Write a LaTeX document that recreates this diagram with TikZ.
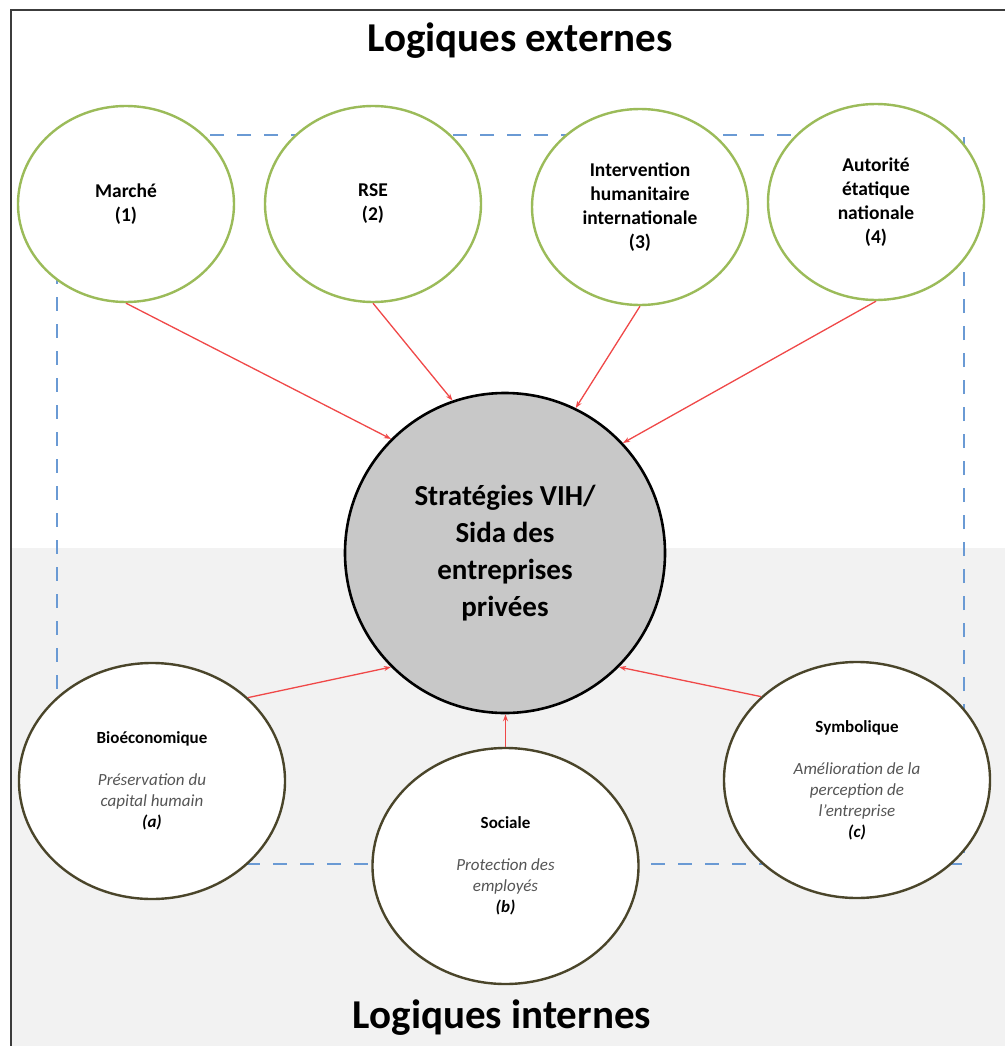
\documentclass[tikz,border=0pt]{standalone}
\usepackage{fontspec}
\setmainfont{Carlito}
\usepackage{xcolor}
\usepackage{tikz}
\usetikzlibrary{arrows.meta,shapes.geometric}
\definecolor{framegray}{HTML}{3C3C3C}
\definecolor{lowergray}{HTML}{F2F2F2}
\definecolor{leafgreen}{HTML}{9BBB59}
\definecolor{olivebrown}{HTML}{4A452A}
\definecolor{dashblue}{HTML}{6A9AD4}
\definecolor{arrowred}{HTML}{F04848}
\definecolor{corefill}{HTML}{C8C8C8}
\definecolor{notegray}{HTML}{555555}

\begin{document}
\begin{tikzpicture}[x=1pt,y=-1pt,>={Stealth[length=7pt,width=5pt]},
  extlogic/.style={ellipse,draw=leafgreen,line width=2.4pt,fill=white,minimum width=216pt,minimum height=196pt,inner sep=0pt,align=center,font=\fontsize{19.5}{24}\selectfont\bfseries},
  intlogic/.style={ellipse,draw=olivebrown,line width=2.4pt,fill=white,minimum width=266pt,minimum height=236pt,inner sep=0pt,align=center,font=\fontsize{17}{21}\selectfont},
  influence/.style={->,arrowred,line width=1.3pt},
  headline/.style={anchor=base,font=\fontsize{41}{44}\selectfont\bfseries}]
  \useasboundingbox (0,0) rectangle (1005,1046);
  % background halves and frame
  \fill[white] (0,0) rectangle (1005,1046);
  \fill[lowergray] (11,548) rectangle (1005,1046);
  \draw[framegray,line width=2pt] (11,1046) -- (11,10) -- (1005,10);
  \draw[dashblue,line width=2pt,dash pattern=on 14pt off 13pt] (57,135) rectangle (964,864);
  \node[headline] (ext) at (520,52) {Logiques externes};
  \node[headline] (int) at (502,1028) {Logiques internes};
  % centre
  \node[circle,draw=black,line width=2.6pt,fill=corefill,minimum size=320pt,inner sep=0pt,align=center,font=\fontsize{29}{37}\selectfont\bfseries] (core) at (505,553) {Stratégies VIH/\\Sida des\\entreprises\\privées};
  % external logics
  \node[extlogic] (mar) at (126,204) {Marché\\(1)};
  \node[extlogic] (rse) at (373,204) {RSE\\(2)};
  \node[extlogic] (hum) at (640,207) {Intervention\\humanitaire\\internationale\\(3)};
  \node[extlogic] (aut) at (876,202) {Autorité\\étatique\\nationale\\(4)};
  % internal logics
  \node[intlogic] (bio) at (152,781) {\textbf{Bioéconomique}\\[21pt]\textcolor{notegray}{\itshape Préservation du}\\\textcolor{notegray}{\itshape capital humain}\\\textbf{\itshape (a)}};
  \node[intlogic] (soc) at (505.5,866) {\textbf{Sociale}\\[21pt]\textcolor{notegray}{\itshape Protection des}\\\textcolor{notegray}{\itshape employés}\\\textbf{\itshape (b)}};
  \node[intlogic] (sym) at (857,780) {\textbf{Symbolique}\\[21pt]\textcolor{notegray}{\itshape Amélioration de la}\\\textcolor{notegray}{\itshape perception de}\\\textcolor{notegray}{\itshape l’entreprise}\\\textbf{\itshape (c)}};
  \draw[influence] (mar.south) -- (core.135);
  \draw[influence] (rse.south) -- (core.109);
  \draw[influence] (hum.south) -- (core.64);
  \draw[influence] (aut.south) -- (core.43);
  \draw[influence] (bio.41) -- (core.225);
  \draw[influence] (soc.north) -- (soc.north |- core.south);
  \draw[influence] (sym.139) -- (core.315);
\end{tikzpicture}
\end{document}
